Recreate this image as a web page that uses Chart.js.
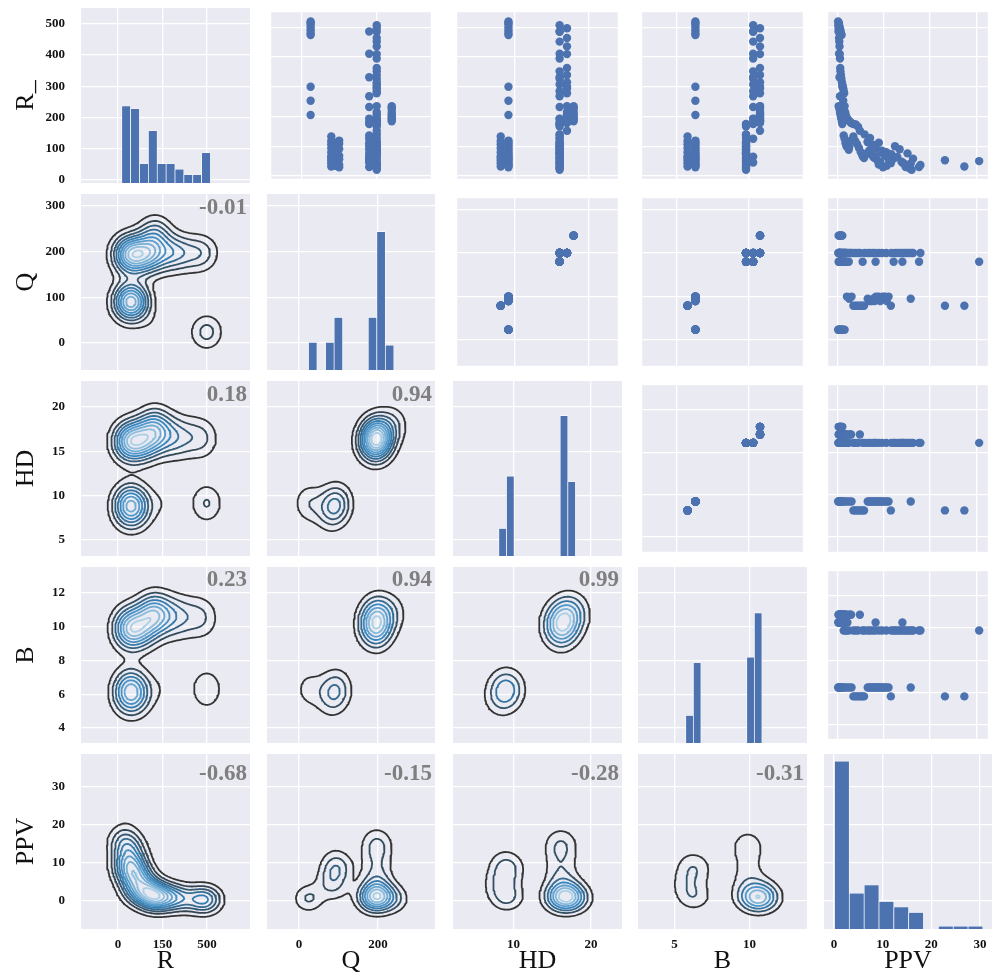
<!DOCTYPE html>
<html>
<head>
<meta charset="utf-8">
<title>Pair plot</title>
<script src="https://cdn.jsdelivr.net/npm/chart.js@4.4.1/dist/chart.umd.min.js"></script>
<style>
  html, body { margin: 0; padding: 0; background: #ffffff; }
  #figure { position: relative; width: 992px; height: 980px; overflow: hidden; background: #ffffff; }
  #figure canvas { position: absolute; }
</style>
</head>
<body>
<div id="figure"></div>
<script>
// ---------- observations (one entry per record) ----------
const R = [
  520, 515, 510, 500, 490, 480, 474, 300, 253, 205,
  235, 230, 225, 215, 208, 200, 195, 190, 184,
  133, 118, 107, 94, 80, 66, 60, 43, 53, 32,
  119, 113, 108, 102, 97, 91, 85, 78, 74, 68, 64, 60, 56, 52, 47, 42, 38, 34, 29,
  486, 411, 332, 268, 232, 193, 182, 175, 136, 125, 110, 100, 88, 75, 65, 59, 45, 30, 50,
  507, 497, 485, 464, 452, 436, 410, 395, 363, 352, 340, 327, 315, 308, 300, 294, 285, 278, 235, 215,
  208, 198, 192, 187, 182, 178, 175, 173, 166, 152, 140, 128, 116, 112, 105, 100, 96, 90, 85, 80,
  76, 73, 64, 58, 48, 42, 37, 30, 25, 21
];
const Q = [
  24, 24, 24, 24, 24, 24, 24, 24, 24, 24,
  240, 240, 240, 240, 240, 240, 240, 240, 240,
  79, 79, 79, 79, 79, 79, 79, 79, 79, 79,
  100, 95, 100, 90, 95, 100, 90, 95, 90, 100, 95, 90, 100, 95, 90, 95, 100, 90, 100,
  180, 180, 180, 180, 180, 180, 180, 180, 180, 180, 180, 180, 180, 180, 180, 180, 180, 180, 180,
  200, 200, 200, 200, 200, 200, 200, 200, 200, 200, 200, 200, 200, 200, 200, 200, 200, 200, 200, 200,
  200, 200, 200, 200, 200, 200, 200, 200, 200, 200, 200, 200, 200, 200, 200, 200, 200, 200, 200, 200,
  200, 200, 200, 200, 200, 200, 200, 200, 200, 200
];
const HD = [
  9.15, 9.15, 9.15, 9.15, 9.15, 9.15, 9.15, 9.15, 9.15, 9.15,
  18, 18, 18, 18, 18, 18, 18, 18, 18,
  8.1, 8.1, 8.1, 8.1, 8.1, 8.1, 8.1, 8.1, 8.1, 8.1,
  9.15, 9.15, 9.15, 9.15, 9.15, 9.15, 9.15, 9.15, 9.15, 9.15, 9.15, 9.15, 9.15, 9.15, 9.15, 9.15, 9.15, 9.15, 9.15,
  16.1, 16.1, 16.1, 16.1, 16.1, 16.1, 16.1, 16.1, 16.1, 16.1, 16.1, 16.1, 16.1, 16.1, 16.1, 16.1, 16.1, 16.1, 16.1,
  16.1, 17.1, 16.1, 17.1, 16.1, 17.1, 17.1, 16.1, 17.1, 16.1, 17.1, 16.1, 17.1, 16.1, 17.1, 17.1, 16.1, 17.1, 17.1, 17.1,
  17.1, 17.1, 16.1, 17.1, 17.1, 17.1, 16.1, 16.1, 16.1, 17.1, 16.1, 16.1, 16.1, 16.1, 16.1, 16.1, 16.1, 16.1, 16.1, 16.1,
  16.1, 16.1, 16.1, 16.1, 16.1, 16.1, 16.1, 16.1, 16.1, 16.1
];
const B = [
  6.3, 6.3, 6.3, 6.3, 6.3, 6.3, 6.3, 6.3, 6.3, 6.3,
  10.83, 10.83, 10.83, 10.83, 10.83, 10.83, 10.83, 10.83, 10.83,
  5.75, 5.75, 5.75, 5.75, 5.75, 5.75, 5.75, 5.75, 5.75, 5.75,
  6.3, 6.3, 6.3, 6.3, 6.3, 6.3, 6.3, 6.3, 6.3, 6.3, 6.3, 6.3, 6.3, 6.3, 6.3, 6.3, 6.3, 6.3, 6.3,
  10.35, 10.35, 10.35, 10.35, 10.35, 10.35, 10.35, 10.35, 9.85, 10.35, 9.85, 9.85, 9.85, 9.85, 10.35, 9.85, 10.35, 9.85, 9.85,
  10.35, 10.83, 10.35, 10.83, 10.35, 10.83, 10.83, 10.35, 10.83, 10.35, 10.83, 10.35, 10.83, 10.35, 10.83, 10.83, 10.35, 10.83, 10.83, 10.83,
  10.83, 10.83, 10.35, 10.83, 10.83, 10.83, 9.85, 9.85, 9.85, 10.83, 9.85, 9.85, 9.85, 9.85, 9.85, 9.85, 9.85, 9.85, 9.85, 9.85,
  9.85, 9.85, 9.85, 9.85, 9.85, 9.85, 9.85, 9.85, 9.85, 9.85
];
const PPV = [
  0.1, 0.25, 0.3, 0.45, 0.6, 0.7, 0.85, 1.0, 1.2, 1.5,
  0.2, 0.35, 0.4, 0.5, 0.6, 0.7, 0.8, 0.9, 1.0,
  3.4, 3.8, 4.2, 4.6, 5.0, 5.4, 5.7, 11.5, 23.2, 27.4,
  3.0, 6.5, 2.0, 7.4, 2.5, 8.3, 6.8, 9.5, 7.1, 10.2, 7.7, 8.0, 11.0, 8.6, 9.2, 15.8, 8.9, 10.6, 9.8,
  0.2, 0.3, 0.4, 0.5, 0.6, 0.8, 0.9, 1.0, 1.3, 1.5, 1.7, 1.9, 2.4, 5.4, 8.2, 12.1, 14.0, 17.6, 30.6,
  0.15, 0.2, 0.25, 0.3, 0.35, 0.4, 0.45, 0.5, 0.55, 0.6, 0.7, 0.8, 0.9, 1.0, 1.1, 1.2, 1.3, 1.4, 1.5, 1.6,
  1.7, 1.9, 2.1, 2.4, 2.7, 2.9, 3.4, 3.9, 4.4, 4.8, 5.8, 7.0, 6.5, 8.9, 7.6, 12.4, 8.1, 13.4, 9.6, 10.5,
  15.1, 11.6, 12.9, 16.3, 13.8, 14.3, 17.9, 14.7, 15.6, 16.0
];

// ---------- variables, ticks, labels ----------
const VARS = ['R', 'Q', 'HD', 'B', 'PPV'];
const DATA = { R, Q, HD, B, PPV };
const ROW_TITLES = ['R_', 'Q', 'HD', 'B', 'PPV'];
const COL_TITLES = ['R', 'Q', 'HD', 'B', 'PPV'];
const Y_TICKS = { R: [0, 100, 200, 300, 400, 500], Q: [0, 100, 200, 300], HD: [5, 10, 15, 20], B: [4, 6, 8, 10, 12], PPV: [0, 10, 20, 30] };
const X_TICKS = { R: [0, 250, 500], Q: [0, 200], HD: [10, 20], B: [5, 10], PPV: [0, 10, 20, 30] };
const X_TICK_LABELS = { R: ['0', '150', '500'], Q: ['0', '200'], HD: ['10', '20'], B: ['5', '10'], PPV: ['0', '10', '20', '30'] };
// correlation annotations of the lower-triangle panels, by row
const CORR_LABELS = [
  [],
  ['-0.01'],
  ['0.18', '0.94'],
  ['0.23', '0.94', '0.99'],
  ['-0.68', '-0.15', '-0.28', '-0.31']
];
const HIST_BINS = 10;

// ---------- layout & style ----------
const FIG_H = 980;
const COL_L = [81, 267, 453, 638, 824];
const COL_R = [250, 435, 622, 807, 992];
const ROW_T = [8, 194, 381, 567, 754];
const ROW_B = [183, 370, 556, 743, 929];
const X_LIMITS = { R: [-208, 742], Q: [-81, 344], HD: [2.19, 24.0], B: [2.57, 13.83], PPV: [-2.05, 32.47] };
const Y_LIMITS = { R: [-9.6, 551], Q: [-59, 326], HD: [3.2, 22.93], B: [3.11, 13.54], PPV: [-7.37, 38.7] };
const HIST_YMAX = 63.6;
const CORR_DY = [0, 14.5, 14.5, 13.5, 20.5];

const SERIF = '"Liberation Serif", "Times New Roman", serif';
const BLUE = '#4C72B0';
const PANEL_BG = '#EAEAF2';
const GRID = '#ffffff';
const INK = '#111111';
const TICK_FONT = { family: SERIF, size: 13, weight: 'bold' };
const TITLE_FONT = { family: SERIF, size: 26, weight: 'normal' };
const KDE_RAMP = ['#333333', '#3787c0', '#abd0e6'];

Chart.defaults.font.family = SERIF;

// ---------- plugins ----------
const panelBg = {
  id: 'panelBg',
  beforeDraw(chart) {
    const { ctx, chartArea: a } = chart;
    ctx.save();
    ctx.fillStyle = PANEL_BG;
    ctx.fillRect(a.left, a.top, a.right - a.left, a.bottom - a.top);
    ctx.restore();
  }
};
const corrLabel = {
  id: 'corrLabel',
  afterDatasetsDraw(chart, args, opts) {
    if (!opts || !opts.text) return;
    const { ctx, chartArea: a } = chart;
    ctx.save();
    ctx.font = 'bold 23px ' + SERIF;
    ctx.fillStyle = '#7f7f7f';
    ctx.textAlign = 'right';
    ctx.textBaseline = 'middle';
    ctx.fillText(opts.text, a.right - 3, a.top + opts.dy);
    ctx.restore();
  }
};

// ---------- statistics helpers ----------
function histBins(vals, n) {
  const lo = Math.min(...vals), hi = Math.max(...vals), w = (hi - lo) / n;
  const counts = new Array(n).fill(0);
  vals.forEach(v => {
    let k = Math.floor((v - lo) / w);
    if (k >= n) k = n - 1;
    if (k < 0) k = 0;
    counts[k]++;
  });
  return counts.map((c, k) => ({ x: lo + (k + 0.5) * w, y: c }));
}

function scottBw(v) {
  const n = v.length;
  const mean = v.reduce((a, b) => a + b, 0) / n;
  const sd = Math.sqrt(v.reduce((a, b) => a + (b - mean) * (b - mean), 0) / (n - 1));
  const s = [...v].sort((a, b) => a - b);
  const q = p => { const h = (n - 1) * p, lo = Math.floor(h); return s[lo] + (s[Math.min(lo + 1, n - 1)] - s[lo]) * (h - lo); };
  const iqr = (q(0.75) - q(0.25)) / 1.349;
  const A = iqr > 0 ? Math.min(sd, iqr) : sd;
  return 1.059 * A * Math.pow(n, -0.2);
}

function linspace(a, b, n) {
  const out = [];
  for (let i = 0; i < n; i++) out.push(a + (b - a) * i / (n - 1));
  return out;
}

// bivariate product-kernel density on a regular grid
function kdeGrid(xv, yv, size, cut) {
  const hx = scottBw(xv), hy = scottBw(yv);
  const gx = linspace(Math.min(...xv) - cut * hx, Math.max(...xv) + cut * hx, size);
  const gy = linspace(Math.min(...yv) - cut * hy, Math.max(...yv) + cut * hy, size);
  const n = xv.length;
  const z = [];
  for (let j = 0; j < size; j++) z.push(new Float64Array(size));
  for (let p = 0; p < n; p++) {
    const kx = gx.map(g => Math.exp(-0.5 * ((g - xv[p]) / hx) ** 2));
    for (let j = 0; j < size; j++) {
      const kyj = Math.exp(-0.5 * ((gy[j] - yv[p]) / hy) ** 2);
      if (kyj < 1e-14) continue;
      const row = z[j];
      for (let i = 0; i < size; i++) row[i] += kx[i] * kyj;
    }
  }
  const norm = 1 / (n * 2 * Math.PI * hx * hy);
  for (let j = 0; j < size; j++) for (let i = 0; i < size; i++) z[j][i] *= norm;
  return { gx, gy, z };
}

// "nice" contour levels strictly inside the density range
function contourLevels(zmin, zmax, nLevels) {
  const nb = nLevels + 1;
  const raw = (zmax - zmin) / nb;
  const scale = Math.pow(10, Math.floor(Math.log10(raw)));
  const steps = [0.1, 0.2, 0.25, 0.5, 1, 2, 2.5, 5, 10, 20].map(s => s * scale);
  const step = steps.find(s => s >= raw * (1 - 1e-9));
  const levels = [];
  const start = Math.floor(zmin / step) * step;
  for (let k = 0; start + k * step <= zmax; k++) {
    const v = start + k * step;
    if (v > zmin && v < zmax) levels.push(v);
  }
  return levels;
}

// marching squares, joined into polylines
function traceContours(gx, gy, z, level) {
  const nx = gx.length, ny = gy.length;
  const pos = new Map(), adj = new Map();
  const hKey = (i, j) => (j * nx + i) * 2;
  const vKey = (i, j) => (j * nx + i) * 2 + 1;
  function ensure(key) {
    if (pos.has(key)) return;
    const isV = key % 2 === 1;
    const idx = (key - (isV ? 1 : 0)) / 2;
    const i = idx % nx, j = Math.floor(idx / nx);
    let x0, y0, v0, x1, y1, v1;
    if (!isV) { x0 = gx[i]; x1 = gx[i + 1]; y0 = y1 = gy[j]; v0 = z[j][i]; v1 = z[j][i + 1]; }
    else { x0 = x1 = gx[i]; y0 = gy[j]; y1 = gy[j + 1]; v0 = z[j][i]; v1 = z[j + 1][i]; }
    const t = (level - v0) / (v1 - v0);
    pos.set(key, [x0 + t * (x1 - x0), y0 + t * (y1 - y0)]);
  }
  function link(a, b) {
    ensure(a); ensure(b);
    if (!adj.has(a)) adj.set(a, []);
    if (!adj.has(b)) adj.set(b, []);
    adj.get(a).push(b);
    adj.get(b).push(a);
  }
  for (let j = 0; j < ny - 1; j++) {
    for (let i = 0; i < nx - 1; i++) {
      const v00 = z[j][i], v10 = z[j][i + 1], v11 = z[j + 1][i + 1], v01 = z[j + 1][i];
      const code = (v00 > level ? 1 : 0) | (v10 > level ? 2 : 0) | (v11 > level ? 4 : 0) | (v01 > level ? 8 : 0);
      if (code === 0 || code === 15) continue;
      const Bk = hKey(i, j), Rk = vKey(i + 1, j), Tk = hKey(i, j + 1), Lk = vKey(i, j);
      const centerUp = (v00 + v10 + v11 + v01) / 4 > level;
      switch (code) {
        case 1: case 14: link(Lk, Bk); break;
        case 2: case 13: link(Bk, Rk); break;
        case 3: case 12: link(Lk, Rk); break;
        case 4: case 11: link(Rk, Tk); break;
        case 6: case 9: link(Bk, Tk); break;
        case 7: case 8: link(Lk, Tk); break;
        case 5:
          if (centerUp) { link(Bk, Rk); link(Lk, Tk); } else { link(Lk, Bk); link(Rk, Tk); }
          break;
        case 10:
          if (centerUp) { link(Lk, Bk); link(Rk, Tk); } else { link(Bk, Rk); link(Lk, Tk); }
          break;
      }
    }
  }
  const visited = new Set();
  const lines = [];
  function walk(start) {
    const line = [start];
    visited.add(start);
    let cur = start;
    for (;;) {
      const next = adj.get(cur).find(k => !visited.has(k));
      if (next === undefined) break;
      visited.add(next);
      line.push(next);
      cur = next;
    }
    if (line.length > 2 && adj.get(cur).includes(start)) line.push(start);
    lines.push(line.map(k => pos.get(k)));
  }
  for (const [k, nb] of adj) if (nb.length === 1 && !visited.has(k)) walk(k);
  for (const k of adj.keys()) if (!visited.has(k)) walk(k);
  return lines;
}

function rampColor(t) {
  const stops = KDE_RAMP.map(h => [1, 3, 5].map(o => parseInt(h.slice(o, o + 2), 16)));
  const s = t * (stops.length - 1);
  const i = Math.min(Math.floor(s), stops.length - 2);
  const f = s - i;
  const c = stops[i].map((v, k) => Math.round(v + (stops[i + 1][k] - v) * f));
  return 'rgb(' + c.join(',') + ')';
}

// ---------- datasets per panel type ----------
function histDataset(vals) {
  const filled = ctx => ctx.raw && ctx.raw.y > 0;
  return {
    type: 'bar',
    xAxisID: 'x',
    yAxisID: 'yh',
    data: histBins(vals, HIST_BINS),
    backgroundColor: ctx => (filled(ctx) ? BLUE : 'rgba(0,0,0,0)'),
    borderColor: ctx => (filled(ctx) ? '#ffffff' : 'rgba(0,0,0,0)'),
    borderWidth: ctx => (filled(ctx) ? { top: 0.7, left: 0.7, right: 0.7, bottom: 0 } : 0),
    borderSkipped: false,
    barThickness: 'flex',
    barPercentage: 1,
    categoryPercentage: 1
  };
}

function scatterDataset(xv, yv) {
  return {
    type: 'scatter',
    data: xv.map((v, i) => ({ x: v, y: yv[i] })),
    pointRadius: 4.2,
    pointBackgroundColor: BLUE,
    backgroundColor: BLUE,
    pointBorderWidth: 0,
    borderWidth: 0
  };
}

function kdeDatasets(xv, yv) {
  const { gx, gy, z } = kdeGrid(xv, yv, 100, 3);
  let zmin = Infinity, zmax = -Infinity;
  z.forEach(row => row.forEach(v => { if (v < zmin) zmin = v; if (v > zmax) zmax = v; }));
  const levels = contourLevels(zmin, zmax, 10);
  return levels.map((lv, k) => {
    const t = levels.length > 1 ? k / (levels.length - 1) : 0;
    const pts = [];
    traceContours(gx, gy, z, lv).forEach(line => {
      line.forEach(p => pts.push({ x: p[0], y: p[1] }));
      pts.push({ x: null, y: null });
    });
    return {
      type: 'line',
      data: pts,
      borderColor: rampColor(t),
      borderWidth: 1.8,
      pointRadius: 0,
      tension: 0,
      spanGaps: false,
      fill: false,
      borderJoinStyle: 'round',
      borderCapStyle: 'round'
    };
  });
}

// ---------- build the grid of panels ----------
const fig = document.getElementById('figure');

function makePanel(r, c) {
  const xv = VARS[c], yv = VARS[r];
  const left = c === 0 ? 0 : COL_L[c];
  const top = ROW_T[r];
  const w = COL_R[c] - left;
  const h = (r === 4 ? FIG_H : ROW_B[r]) - top;
  const yAxisW = c === 0 ? COL_L[0] : 0;
  const xAxisH = r === 4 ? FIG_H - ROW_B[4] : 0;

  const canvas = document.createElement('canvas');
  canvas.width = w; canvas.height = h;
  canvas.style.left = left + 'px'; canvas.style.top = top + 'px';
  canvas.style.width = w + 'px'; canvas.style.height = h + 'px';
  fig.appendChild(canvas);

  let datasets;
  if (r === c) datasets = [histDataset(DATA[xv])];
  else if (c > r) datasets = [scatterDataset(DATA[xv], DATA[yv])];
  else datasets = kdeDatasets(DATA[xv], DATA[yv]);

  const scales = {
    x: {
      type: 'linear', position: 'bottom', offset: false,
      min: X_LIMITS[xv][0], max: X_LIMITS[xv][1],
      grid: { color: GRID, lineWidth: 1.3, drawTicks: false, offset: false },
      border: { display: false },
      ticks: {
        display: r === 4, autoSkip: false, maxRotation: 0, padding: 8, color: INK, font: TICK_FONT,
        callback: v => { const k = X_TICKS[xv].indexOf(v); return k >= 0 ? X_TICK_LABELS[xv][k] : ''; }
      },
      title: { display: r === 4, text: COL_TITLES[c], color: INK, font: TITLE_FONT, padding: { top: 0, bottom: 3 } },
      afterBuildTicks: s => { s.ticks = X_TICKS[xv].map(v => ({ value: v })); },
      afterFit: s => { s.height = xAxisH; s.paddingLeft = 0; s.paddingRight = 0; }
    },
    y: {
      type: 'linear', position: 'left',
      min: Y_LIMITS[yv][0], max: Y_LIMITS[yv][1],
      grid: { color: GRID, lineWidth: 1.3, drawTicks: false },
      border: { display: false },
      ticks: {
        display: c === 0, autoSkip: false, padding: 16, color: INK, font: TICK_FONT,
        callback: v => String(v)
      },
      title: { display: c === 0, text: ROW_TITLES[r], color: INK, font: TITLE_FONT, padding: { top: 11, bottom: 0 } },
      afterBuildTicks: s => { s.ticks = Y_TICKS[yv].map(v => ({ value: v })); },
      afterFit: s => { s.width = yAxisW; s.paddingTop = 0; s.paddingBottom = 0; }
    }
  };
  if (r === c) scales.yh = { type: 'linear', display: false, min: 0, max: HIST_YMAX };

  const corrText = c < r ? CORR_LABELS[r][c] : null;

  new Chart(canvas, {
    type: 'scatter',
    data: { datasets },
    options: {
      responsive: false,
      animation: false,
      devicePixelRatio: 1,
      events: [],
      layout: { padding: 0 },
      plugins: {
        legend: { display: false },
        tooltip: { enabled: false },
        corrLabel: { text: corrText, dy: CORR_DY[r] }
      },
      scales
    },
    plugins: [panelBg, corrLabel]
  });
}

for (let r = 0; r < 5; r++) for (let c = 0; c < 5; c++) makePanel(r, c);
</script>
</body>
</html>
